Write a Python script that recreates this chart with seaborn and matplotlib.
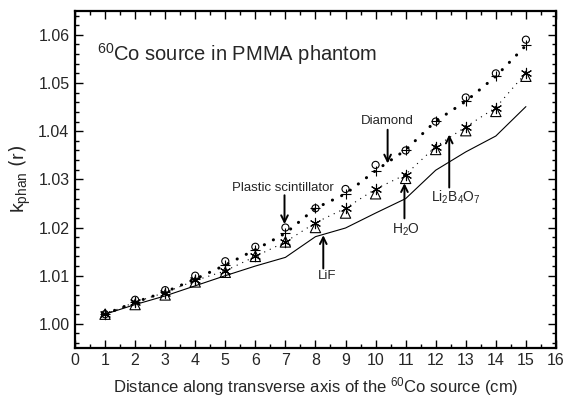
import matplotlib
matplotlib.use("Agg")
import matplotlib.pyplot as plt
import numpy as np
import pandas as pd
import seaborn as sns
from matplotlib.ticker import FormatStrFormatter, MultipleLocator

# distance along transverse axis (cm)
distance = [1, 2, 3, 4, 5, 6, 7, 8, 9, 10, 11, 12, 13, 14, 15]

# k_phan(r) values
plastic = [1.002, 1.005, 1.007, 1.010, 1.013, 1.016, 1.020, 1.024, 1.028, 1.033, 1.036, 1.042, 1.047, 1.052, 1.059]
diamond = [1.002, 1.0045, 1.0066, 1.0093, 1.0122, 1.0154, 1.0188, 1.0240, 1.0270, 1.0318, 1.0361, 1.0421, 1.0462, 1.0514, 1.0578]
li2b4o7 = [1.002, 1.0045, 1.0065, 1.0090, 1.0110, 1.0140, 1.0170, 1.0210, 1.0240, 1.0280, 1.0310, 1.0368, 1.0409, 1.0449, 1.0521]
h2o = [1.002, 1.0040, 1.0060, 1.0087, 1.0107, 1.0140, 1.0170, 1.0200, 1.0230, 1.0270, 1.0302, 1.0362, 1.0401, 1.0441, 1.0514]
lif = [1.002, 1.0040, 1.0058, 1.0079, 1.0100, 1.0120, 1.0138, 1.0181, 1.0199, 1.0230, 1.0260, 1.0319, 1.0357, 1.0390, 1.0451]

df = pd.DataFrame({
    "distance": distance,
    "plastic": plastic,
    "diamond": diamond,
    "li2b4o7": li2b4o7,
    "h2o": h2o,
    "lif": lif,
})

sns.set_style("ticks")
plt.rcParams["font.family"] = ["Liberation Sans", "DejaVu Sans"]

fig = plt.figure(figsize=(5.65, 3.99), dpi=100)
ax = fig.add_axes([0.1327, 0.128, 0.8513, 0.845])

# lines
sns.lineplot(data=df, x="distance", y="lif", ax=ax, color="black", lw=0.8)
sns.lineplot(data=df, x="distance", y="li2b4o7", ax=ax, color="black", lw=0.8,
             linestyle=(0, (1, 4.5)))
sns.lineplot(data=df, x="distance", y="diamond", ax=ax, color="black", lw=2.2,
             linestyle=(0, (0.05, 3.3)), dash_capstyle="round")

# markers
sns.scatterplot(data=df, x="distance", y="h2o", ax=ax, marker="^", s=55,
                facecolors="none", edgecolor="black", linewidth=0.8, zorder=3)
sns.scatterplot(data=df, x="distance", y="li2b4o7", ax=ax, marker=(6, 2, 0), s=55,
                color="black", linewidth=0.8, zorder=3)
sns.scatterplot(data=df, x="distance", y="diamond", ax=ax, marker="+", s=45,
                color="black", linewidth=0.8, zorder=3)
sns.scatterplot(data=df, x="distance", y="plastic", ax=ax, marker="o", s=26,
                facecolors="none", edgecolor="black", linewidth=0.8, zorder=3)

ax.set_xlim(0, 16)
ax.set_ylim(0.995, 1.065)
ax.xaxis.set_major_locator(MultipleLocator(1))
ax.xaxis.set_minor_locator(MultipleLocator(0.5))
ax.set_yticks([1.00, 1.01, 1.02, 1.03, 1.04, 1.05, 1.06])
ax.yaxis.set_minor_locator(MultipleLocator(0.002))
ax.yaxis.set_major_formatter(FormatStrFormatter("%.2f"))

ax.tick_params(which="both", direction="in", top=True, right=True, color="black")
ax.tick_params(which="major", length=6, width=1.0, labelsize=11.5, pad=4)
ax.tick_params(which="minor", length=3, width=1.0)
for spine in ax.spines.values():
    spine.set_linewidth(1.6)
    spine.set_color("black")

ax.set_xlabel(r"Distance along transverse axis of the $\mathregular{^{60}}$Co source (cm)",
              fontsize=12, labelpad=5)
ax.set_ylabel(r"$\mathregular{k_{phan}}$ $\mathregular{\left(r\right)}$", fontsize=14, labelpad=4)

ax.text(0.72, 1.0546, r"$\mathregular{^{60}}$Co source in PMMA phantom", fontsize=14.5,
        ha="left", va="baseline")

# labels and vertical arrows
arrow = dict(arrowstyle="->", color="black", lw=1.4, shrinkA=0, shrinkB=0,
             mutation_scale=12)
ax.text(10.4, 1.0421, "Diamond", fontsize=9.5, ha="center", va="center")
ax.annotate("", xy=(10.4, 1.0333), xytext=(10.4, 1.0403), arrowprops=arrow)
ax.text(6.93, 1.0283, "Plastic scintillator", fontsize=9.5, ha="center", va="center")
ax.annotate("", xy=(6.97, 1.0207), xytext=(6.97, 1.0267), arrowprops=arrow)
ax.text(12.68, 1.0262, r"Li$\mathregular{_2}$B$\mathregular{_4}$O$\mathregular{_7}$",
        fontsize=10, ha="center", va="center")
ax.annotate("", xy=(12.45, 1.0393), xytext=(12.45, 1.0283), arrowprops=arrow)
ax.text(11.02, 1.0196, r"H$\mathregular{_2}$O", fontsize=10, ha="center", va="center")
ax.annotate("", xy=(10.96, 1.0292), xytext=(10.96, 1.0219), arrowprops=arrow)
ax.text(8.38, 1.0099, "LiF", fontsize=9.5, ha="center", va="center")
ax.annotate("", xy=(8.26, 1.0184), xytext=(8.26, 1.0115), arrowprops=arrow)

fig.savefig("out.png", dpi=100)
